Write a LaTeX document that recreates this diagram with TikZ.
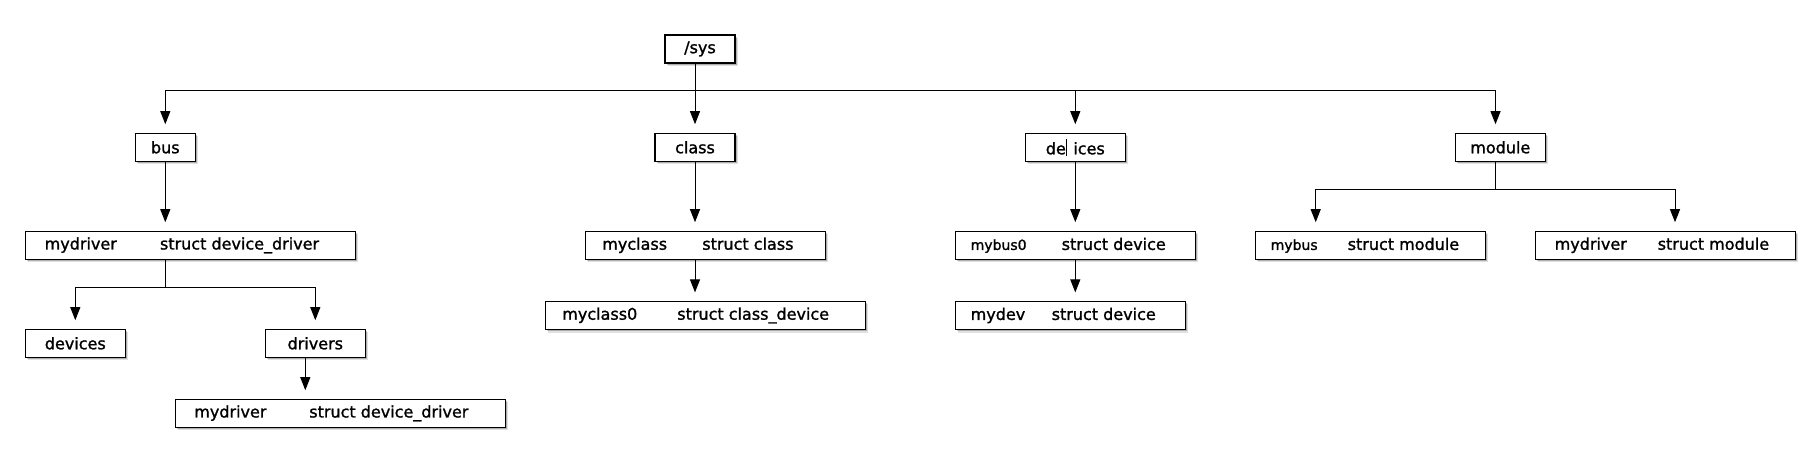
\documentclass[tikz,border=0pt]{standalone}
\usepackage{fontspec}
\setmainfont{DejaVu Sans}[BoldFont=DejaVu Sans, BoldFeatures={FakeBold=1.3}]
\usetikzlibrary{arrows.meta,shadows}
\newcommand\twopart[5]{\makebox[#1pt][l]{\hspace*{#2pt}\rlap{#3}\hspace*{\dimexpr#4pt-#2pt\relax}#5}}
\tikzset{
  box/.style={draw=black, line width=1.2pt, fill=white, inner xsep=0pt, inner ysep=0pt,
    minimum height=28pt, font=\fontsize{16}{19}\selectfont\bfseries,
    drop shadow={shadow xshift=3pt, shadow yshift=-3pt, opacity=0.12, fill=black},
    drop shadow={shadow xshift=1.8pt, shadow yshift=-1.8pt, opacity=0.22, fill=black}},
  conn/.style={draw=black, line width=1pt},
  arr/.style={conn, -{Triangle[length=13pt,width=10pt]}, shorten >=8.5pt}
}
\newcommand\smallname[1]{{\fontsize{14}{17}\selectfont #1}}
\begin{document}
\begin{tikzpicture}[x=1pt,y=-1pt]
\fill[white] (0,0) rectangle (1820,462);
\useasboundingbox (0,0) rectangle (1820,462);
% top level
\node[box, minimum width=70pt] (sys) at (700,49) {/sys};
\node[box, minimum width=60pt] (bus) at (165.3,147.3) {bus};
\node[box, minimum width=80pt] (class) at (695,147.3) {class};
\node[box, minimum width=100pt] (devtop) at (1075.3,147.3) {de\rule[-0.2ex]{0.8pt}{2.0ex}\hspace{0.42em}ices};
\node[box, minimum width=90pt] (module) at (1500.3,147.3) {module};
% bus subtree
\node[box, minimum width=330pt] (mydrvA) at (190.3,245.3) {\twopart{330}{19.4}{mydriver}{134.7}{struct device\_driver}};
\node[box, minimum width=100pt] (devs) at (75.3,343.3) {devices};
\node[box, minimum width=100pt] (drivers) at (315.3,343.3) {drivers};
\node[box, minimum width=330pt] (mydrvB) at (340.3,413.3) {\twopart{330}{19}{mydriver}{134}{struct device\_driver}};
% class subtree
\node[box, minimum width=240pt] (myclass) at (705.3,245.3) {\twopart{240}{17}{myclass}{117}{struct class}};
\node[box, minimum width=320pt] (myclass0) at (705.3,315.5) {\twopart{320}{17}{myclass0}{132}{struct class\_device}};
% devices subtree
\node[box, minimum width=240pt] (mybus0) at (1075.3,245.3) {\twopart{240}{15.4}{\smallname{mybus0}}{106.4}{struct device}};
\node[box, minimum width=230pt] (mydev) at (1070.3,315.5) {\twopart{230}{15.4}{mydev}{96.4}{struct device}};
% module subtree
\node[box, minimum width=230pt] (mybus) at (1370.3,245.3) {\twopart{230}{15.4}{\smallname{mybus}}{92.4}{struct module}};
\node[box, minimum width=260pt] (mydrvC) at (1665.3,245.3) {\twopart{260}{19.4}{mydriver}{122.4}{struct module}};
% connectors
\coordinate (jtop) at (695,91);
\draw[conn] (sys.south -| jtop) -- (jtop);
\draw[arr] (jtop) -| (bus.north);
\draw[arr] (jtop) -- (jtop |- class.north);
\draw[arr] (jtop) -| (devtop.north);
\draw[arr] (jtop) -| ([xshift=-4.8pt]module.north);
\draw[arr] (bus.south) -- (bus.south |- mydrvA.north);
\coordinate (jdrv) at (165.3,287.3);
\draw[conn] (mydrvA.south -| jdrv) -- (jdrv);
\draw[arr] (jdrv) -| (devs.north);
\draw[arr] (jdrv) -| (drivers.north);
\draw[arr] ([xshift=-10pt]drivers.south) -- ([xshift=-10pt]drivers.south |- mydrvB.north);
\draw[arr] (class.south) -- (class.south |- myclass.north);
\draw[arr] (myclass.south -| class.south) -- (class.south |- myclass0.north);
\draw[arr] (devtop.south) -- (devtop.south |- mybus0.north);
\draw[arr] (mybus0.south) -- (mybus0.south |- mydev.north);
\coordinate (jmod) at (1495.5,189.3);
\draw[conn] (module.south -| jmod) -- (jmod);
\draw[arr] (jmod) -| ([xshift=-54.6pt]mybus.north);
\draw[arr] (jmod) -| ([xshift=9.7pt]mydrvC.north);
\end{tikzpicture}
\end{document}
